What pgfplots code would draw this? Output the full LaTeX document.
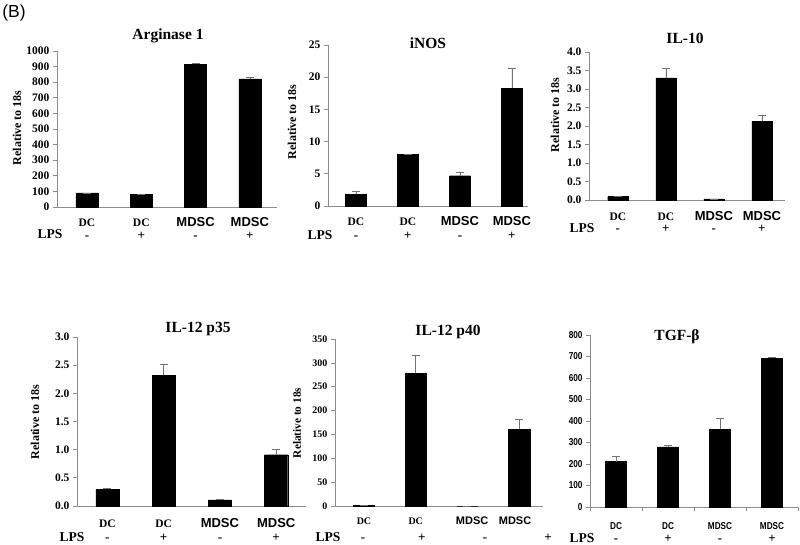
\documentclass[border=0pt]{standalone}
\usepackage{pgfplots}
\pgfplotsset{compat=1.18}
\usepackage{fontspec}
\setmainfont{Liberation Serif}
\newfontfamily\tnr{Liberation Serif}
\newfontfamily\ars{Liberation Sans}
\newfontfamily\arn[FakeStretch=0.82]{Liberation Sans}
\newcommand\fTB[1]{\tnr\bfseries\fontsize{#1}{#1}\selectfont}
\newcommand\fAB[1]{\ars\bfseries\fontsize{#1}{#1}\selectfont}
\newcommand\fAN[1]{\arn\bfseries\fontsize{#1}{#1}\selectfont}
\colorlet{axgray}{black!45}
\pgfplotsset{
 panel/.style={
   scale only axis, axis x line*=bottom, axis y line*=left,
   axis line style={axgray, line width=0.7pt},
   ymin=0, xtick={0,1,2,3}, xtick style={draw=none},
   ytick style={axgray, line width=0.7pt}, tick align=outside, major tick length=4pt,
   yticklabel style={font=\fTB{11.5}, /pgf/number format/assume math mode=true, /pgf/number format/1000 sep={}},
   xticklabel style={anchor=base, inner sep=0pt, font=\fTB{11.5}},
   clip=false, anchor=south west, enlargelimits=false,
 },
 bars/.style={ybar, bar width=#1, fill=black, draw=black,
   error bars/.cd, y dir=plus, y explicit,
   error bar style={black!55, line width=0.7pt},
   error mark options={rotate=90, black!55, line width=0.7pt, mark size=4pt}},
}
\newcommand\lpsrow[6]{%
 \node[anchor=base,inner sep=0pt,font=\fTB{13},yshift=#1] at (axis cs:#2,0) {-};
 \node[anchor=base,inner sep=0pt,font=\fTB{13},yshift=#1] at (axis cs:#3,0) {+};
 \node[anchor=base,inner sep=0pt,font=\fTB{13},yshift=#1] at (axis cs:#4,0) {-};
 \node[anchor=base,inner sep=0pt,font=\fTB{13},yshift=#1] at (axis cs:#5,0) {+};}
\newcommand\DC{\fTB{11.5}DC}
\newcommand\MD{\fAB{13}MDSC}
\begin{document}
\begin{tikzpicture}
\path[use as bounding box] (0pt,0pt) rectangle (800pt,544pt);
\node[font=\ars\fontsize{17.5}{17.5}\selectfont] at (14pt,531pt) {(B)};

% ---------------- Arginase 1
\begin{axis}[panel, at={(57pt,337pt)}, width=220pt, height=156pt,
  xmin=-0.552, xmax=3.50, ymax=1000, ytick={0,100,...,1000},
  xticklabels={\DC,\DC,\MD,\MD}, xticklabel style={yshift=-16pt}]
\addplot[bars=0.405] coordinates {(0,90) +- (0,0) (1,80) +- (0,0) (2,915) +- (0,9) (3,822) +- (0,6)};
\lpsrow{-32.5pt}{0}{1}{2}{3}{}
\end{axis}
\node[font=\fTB{15.5}] at (168pt,508pt) {Arginase 1};
\node[font=\fTB{12},rotate=90] at (17pt,416pt) {Relative to 18s};
\node[anchor=base,inner sep=0pt,font=\fTB{13.5}] at (50pt,305pt) {LPS};

% ---------------- iNOS
\begin{axis}[panel, at={(328pt,338pt)}, width=200pt, height=161pt,
  xmin=-0.538, xmax=3.31, ymax=25, ytick={0,5,...,25},
  xticklabels={\DC,\DC,\MD,\MD}, xticklabel style={yshift=-15.5pt}]
\addplot[bars=0.40] coordinates {(0,1.8) +- (0,0.5) (1,8.05) +- (0,0) (2,4.7) +- (0,0.5) (3,18.3) +- (0,3.0)};
\lpsrow{-33.5pt}{0}{1}{2}{3}{}
\end{axis}
\node[font=\fTB{15.5}] at (428pt,501pt) {iNOS};
\node[font=\fTB{12},rotate=90] at (292pt,422pt) {Relative to 18s};
\node[anchor=base,inner sep=0pt,font=\fTB{13.5}] at (320pt,304.5pt) {LPS};

% ---------------- IL-10
\begin{axis}[panel, at={(589pt,344pt)}, width=196pt, height=148pt,
  xmin=-0.60, xmax=3.48, ymax=4, ytick={0,0.5,...,4},
  yticklabel style={/pgf/number format/fixed, /pgf/number format/fixed zerofill, /pgf/number format/precision=1},
  xticklabels={\DC,\DC,\MD,\MD}, xticklabel style={yshift=-16.5pt}]
\addplot[bars=0.42] coordinates {(0,0.09) +- (0,0) (1,3.3) +- (0,0.26) (2,0.03) +- (0,0) (3,2.13) +- (0,0.16)};
\lpsrow{-33pt}{0}{1}{2}{3}{}
\end{axis}
\node[font=\fTB{15.5}] at (685pt,506pt) {IL-10};
\node[font=\fTB{12},rotate=90] at (555pt,429pt) {Relative to 18s};
\node[anchor=base,inner sep=0pt,font=\fTB{13.5}] at (582pt,311pt) {LPS};

% ---------------- IL-12 p35
\begin{axis}[panel, at={(77pt,38pt)}, width=229pt, height=169pt,
  xmin=-0.54, xmax=3.53, ymax=3, ytick={0,0.5,...,3},
  yticklabel style={/pgf/number format/fixed, /pgf/number format/fixed zerofill, /pgf/number format/precision=1},
  xticklabels={\DC,\DC,\MD,\MD}, xticklabel style={yshift=-17pt}]
\addplot[bars=0.41] coordinates {(0,0.30) +- (0,0.02) (1,2.32) +- (0,0.19) (2,0.11) +- (0,0.01) (3,0.91) +- (0,0.10)};
\lpsrow{-35pt}{0}{1}{2}{3}{}
\end{axis}
\node[font=\fTB{15.5}] at (198pt,215pt) {IL-12 p35};
\node[font=\fTB{12},rotate=90] at (35pt,122pt) {Relative to 18s};
\node[anchor=base,inner sep=0pt,font=\fTB{13.5}] at (72pt,3pt) {LPS};

% ---------------- IL-12 p40
\begin{axis}[panel, at={(335pt,38pt)}, width=208pt, height=167pt,
  xmin=-0.56, xmax=3.46, ymax=350, ytick={0,50,...,350},
  yticklabel style={font=\fTB{10}},
  xtick={0,1,2.09,2.92},
  xticklabels={{\fTB{10}DC},{\fTB{10}DC},{\fAB{11}MDSC},{\fAB{11}MDSC}}, xticklabel style={yshift=-14.5pt}]
\addplot[bars=0.41] coordinates {(0,1.0) +- (0,0) (1,278) +- (0,38) (2,0) +- (0,0) (3,161) +- (0,20)};
\lpsrow{-35pt}{-0.02}{1.12}{2.34}{3.56}{}
\end{axis}
\node[font=\fTB{15.5}] at (448pt,212pt) {IL-12 p40};
\node[font=\fTB{11.3},rotate=90] at (297pt,121pt) {Relative to 18s};
\node[anchor=base,inner sep=0pt,font=\fTB{13.5}] at (328pt,3pt) {LPS};

% ---------------- TGF-beta
\begin{axis}[panel, at={(590pt,37pt)}, width=208pt, height=172pt,
  xmin=-0.5, xmax=3.5, ymax=800, ytick={0,100,...,800},
  yticklabel style={font=\fAN{10}},
  xticklabels={DC,DC,MDSC,MDSC}, xticklabel style={font=\fAN{10}, yshift=-18.5pt},
  extra x ticks={-0.5,0.5,1.5,2.5,3.5}, extra x tick labels={},
  extra x tick style={xtick style={draw=axgray, line width=0.7pt}}]
\addplot[bars=0.405] coordinates {(0,211) +- (0,25) (1,280) +- (0,5) (2,361) +- (0,52) (3,693) +- (0,3)};
\lpsrow{-35pt}{0}{1}{2}{3}{}
\end{axis}
\node[font=\fTB{15.5}] at (677pt,207pt) {TGF-β};
\node[anchor=base,inner sep=0pt,font=\fTB{13.5}] at (582pt,2pt) {LPS};
\end{tikzpicture}
\end{document}
